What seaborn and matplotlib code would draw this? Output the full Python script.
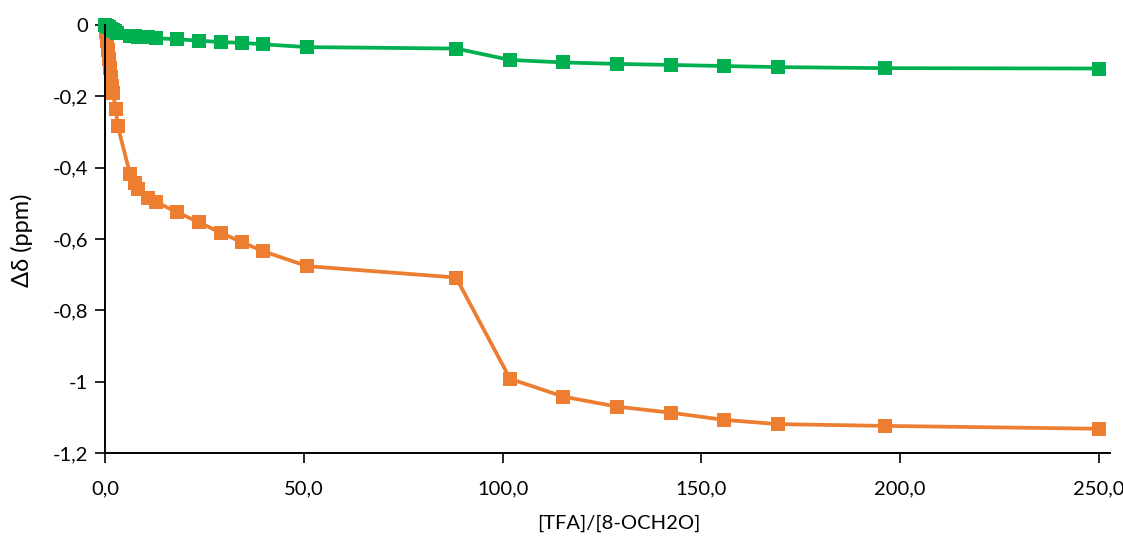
import matplotlib
matplotlib.use("Agg")
import matplotlib.pyplot as plt
import seaborn as sns
import pandas as pd

# ---- data ----
x_orange = [0, 0.25, 0.5, 0.75, 1.0, 1.25, 1.5, 1.75, 2.0, 2.7, 3.2,
            6.3, 7.5, 8.3, 10.8, 12.8, 18.1, 23.6, 29.2, 34.5, 39.7, 50.8,
            88.3, 101.9, 115.3, 128.8, 142.3, 155.7, 169.2, 196.2, 250.0]
y_orange = [0, -0.02, -0.045, -0.07, -0.095, -0.12, -0.145, -0.17, -0.19, -0.236, -0.283,
            -0.418, -0.443, -0.46, -0.485, -0.496, -0.525, -0.553, -0.583, -0.609, -0.634, -0.676,
            -0.708, -0.992, -1.042, -1.070, -1.087, -1.107, -1.119, -1.124, -1.132]

x_green = [0, 0.5, 1.0, 1.5, 2.0, 2.5, 3.0,
           6.3, 7.5, 8.3, 10.8, 12.8, 18.1, 23.6, 29.2, 34.5, 39.7, 50.8,
           88.3, 101.9, 115.3, 128.8, 142.3, 155.7, 169.2, 196.2, 250.0]
y_green = [0, -0.003, -0.006, -0.01, -0.014, -0.018, -0.022,
           -0.030, -0.032, -0.033, -0.035, -0.037, -0.040, -0.044, -0.048, -0.050, -0.054, -0.062,
           -0.066, -0.098, -0.105, -0.109, -0.112, -0.115, -0.118, -0.121, -0.122]

x_ticks = [0, 50, 100, 150, 200, 250]
x_ticklabels = ["0,0", "50,0", "100,0", "150,0", "200,0", "250,0"]
y_ticks = [0, -0.2, -0.4, -0.6, -0.8, -1.0, -1.2]
y_ticklabels = ["0", "-0,2", "-0,4", "-0,6", "-0,8", "-1", "-1,2"]

x_label = "[TFA]/[8-OCH2O]"
y_label = "Δδ (ppm)"

ORANGE = "#ED7D31"
GREEN = "#00B050"

sns.set_theme(style="white")
plt.rcParams['font.family'] = ['Lato', 'DejaVu Sans']

fig = plt.figure(figsize=(11.23, 5.39), dpi=100)
ax = fig.add_axes([105 / 1123, 1 - 453 / 539, (1110 - 105) / 1123, (453 - 25) / 539])

df_o = pd.DataFrame({"x": x_orange, "y": y_orange})
df_g = pd.DataFrame({"x": x_green, "y": y_green})

for df, col in [(df_o, ORANGE), (df_g, GREEN)]:
    sns.lineplot(data=df, x="x", y="y", ax=ax, color=col, linewidth=2.7,
                 marker="s", markersize=9.5, markeredgecolor=col, markeredgewidth=0,
                 sort=False, estimator=None, clip_on=False)

ax.set_xlim(0, 252.8)
ax.set_ylim(-1.2, 0)
ax.set_xticks(x_ticks)
ax.set_xticklabels(x_ticklabels)
ax.set_yticks(y_ticks)
ax.set_yticklabels(y_ticklabels)

for s in ["top", "right"]:
    ax.spines[s].set_visible(False)
for s in ["left", "bottom"]:
    ax.spines[s].set_color("black")
    ax.spines[s].set_linewidth(1.4)

ax.tick_params(axis="both", direction="out", length=7, width=1.2, color="black",
               labelsize=14.5, labelcolor="black", pad=5, bottom=True, left=True)
ax.tick_params(axis="x", pad=13)

ax.set_xlabel(x_label, fontsize=14.5, color="black", labelpad=11)
ax.xaxis.set_label_coords((619 - 105) / (1110 - 105), -(515 - 453) / (453 - 25))
ax.set_ylabel(y_label, fontsize=17, color="black")
ax.yaxis.set_label_coords(-(105 - 33) / (1110 - 105), 0.5 - (240 - 239) / (453 - 25))
ax.grid(False)

fig.savefig("out.png", dpi=100, facecolor="white")
